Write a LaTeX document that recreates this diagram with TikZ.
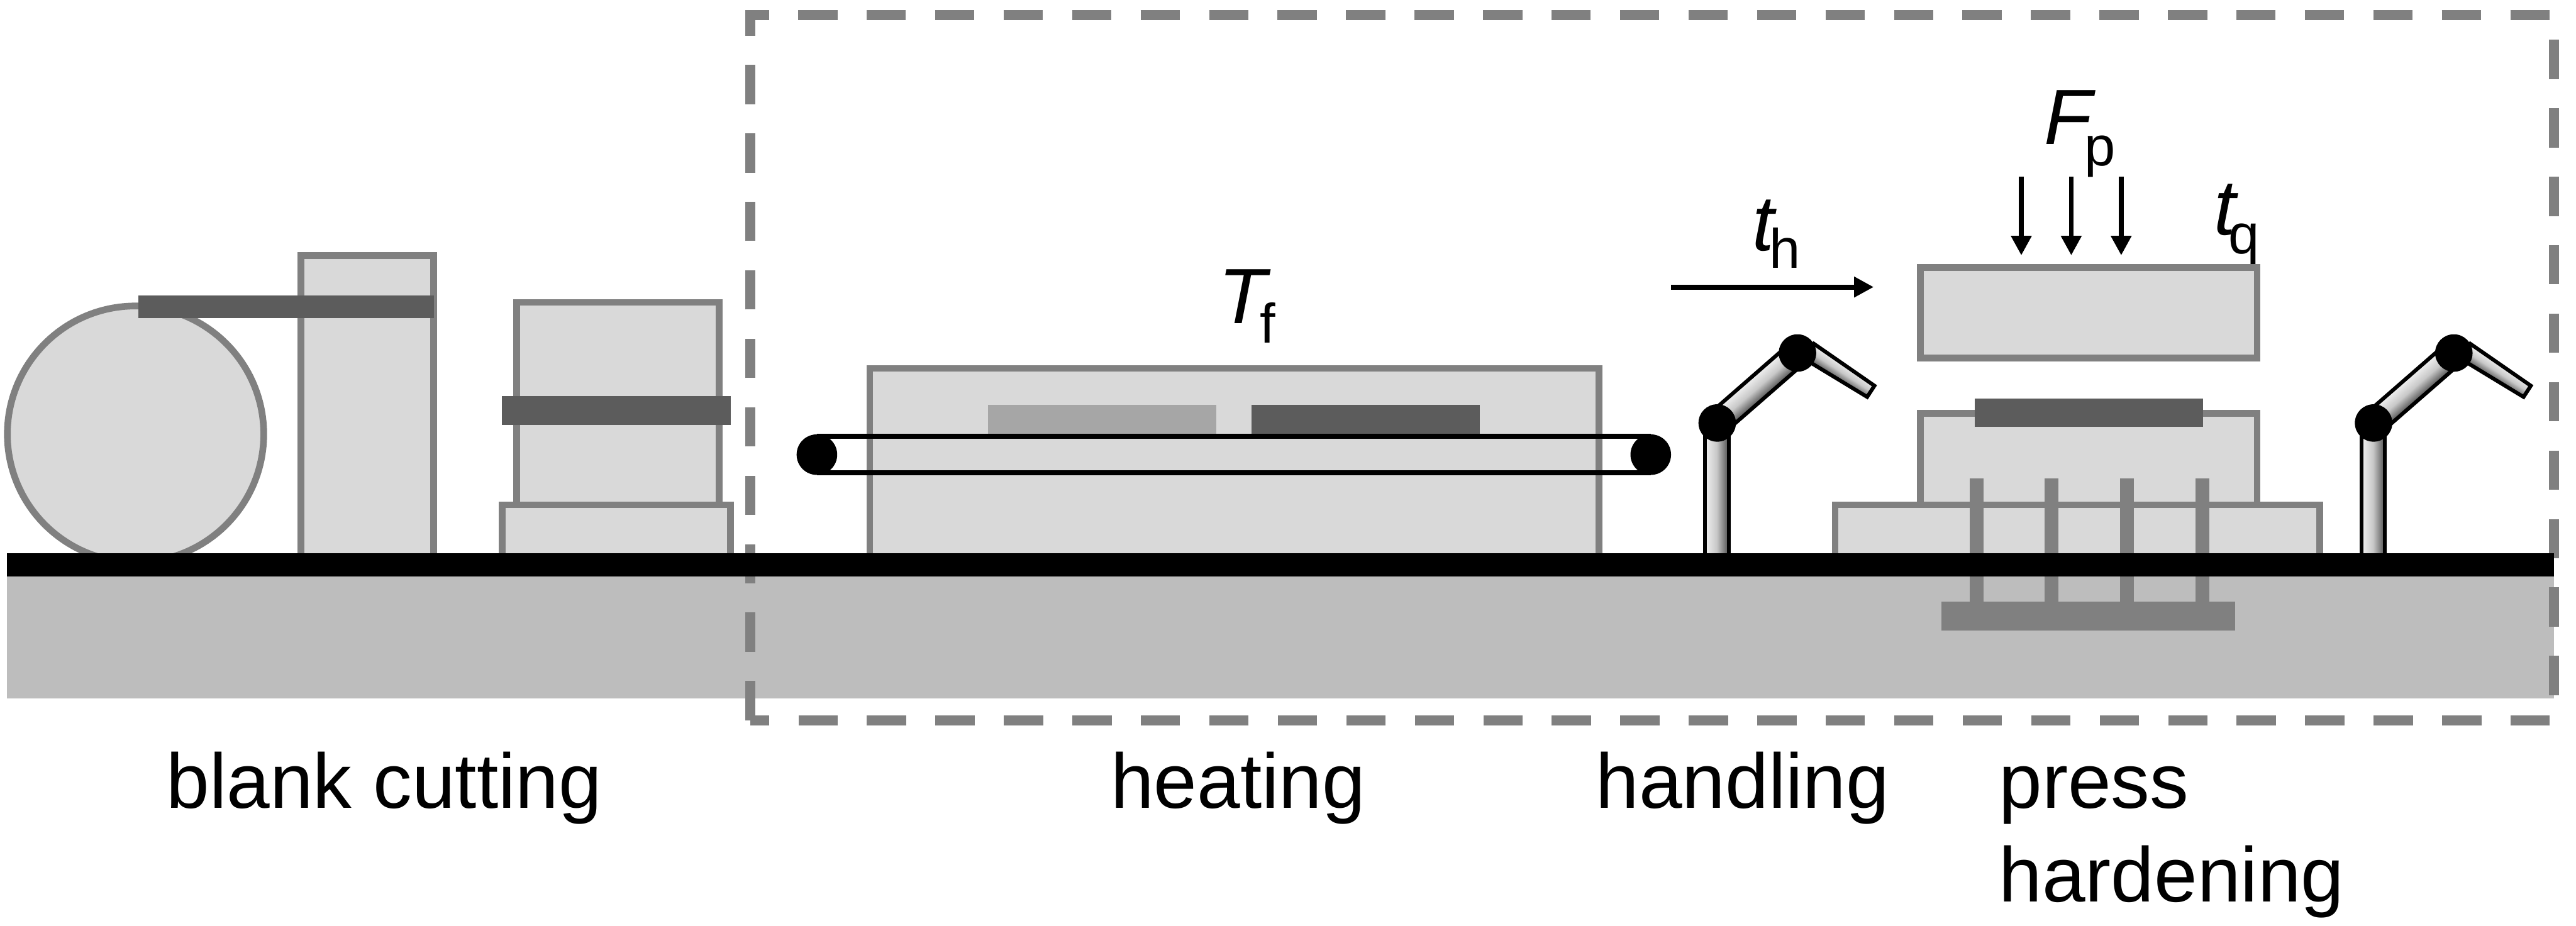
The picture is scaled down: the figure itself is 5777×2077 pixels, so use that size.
\documentclass[tikz,border=0pt]{standalone}
\usepackage{fontspec}
\setmainfont{Liberation Sans}
\usetikzlibrary{arrows.meta}
\definecolor{edgegrey}{HTML}{808080}
\definecolor{bodygrey}{HTML}{D9D9D9}
\definecolor{basegrey}{HTML}{BDBDBD}
\definecolor{darkstrip}{HTML}{5C5C5C}
\definecolor{lightstrip}{HTML}{A6A6A6}
\definecolor{armlight}{HTML}{F2F2F2}
\definecolor{armmid}{HTML}{C8C8C8}
\definecolor{armdark}{HTML}{505050}
\tikzset{
  machine/.style={draw=edgegrey,fill=bodygrey,line width=0.15cm},
  belt/.style={draw=black,line width=0.11cm},
  procarrow/.style={draw=black,line width=0.11cm,-{Triangle[length=0.44cm,width=0.44cm]}},
  armpart/.style={draw=black,line width=0.085cm},
  lab/.style={inner sep=0pt,outer sep=0pt,anchor=base west,font=\fontsize{49.5}{60}\selectfont},
  mathlab/.style={inner sep=0pt,outer sep=0pt,anchor=base west,font=\fontsize{50}{60}\selectfont\itshape},
  sublab/.style={inner sep=0pt,outer sep=0pt,anchor=base west,font=\fontsize{35.5}{40}\selectfont}
}
\begin{document}
\begin{tikzpicture}[x=0.01cm,y=-0.01cm]
\useasboundingbox[fill=white] (0,0) rectangle (5777,2077);
% base
\fill[basegrey] (16,1293) rectangle (5727,1567);
% dashed frame
\draw[edgegrey,line width=0.225cm,dash pattern=on 0.88cm off 0.655cm]
  (1683,1616) -- (1683,33.5) -- (5727.5,33.5) -- (5727.5,1616) -- (1683,1616);
% label partly hidden by the press
\node[sublab] (subq) at (4997,569) {q};
% coil and blank cutting
\draw[machine] (304,974) circle (287.5);
\draw[machine] (674.5,573.5) rectangle (972.5,1260);
\fill[darkstrip] (310,663) rectangle (973,713);
\draw[machine] (1158.5,678.5) rectangle (1612.5,1140);
\draw[machine] (1126.5,1132.5) rectangle (1638.5,1260);
\fill[darkstrip] (1126,889) rectangle (1639,953);
% furnace
\draw[machine] (1950.5,826.5) rectangle (3585.5,1260);
\fill[lightstrip] (2216,909) rectangle (2728,973);
\fill[darkstrip] (2806,909) rectangle (3319,973);
\draw[belt] (1832,978.5) -- (3702,978.5);
\draw[belt] (1832,1060.5) -- (3702,1060.5);
\fill[black] (1832,1020) circle (45.5);
\fill[black] (3702,1020) circle (45.5);
% press
\draw[machine] (4306.5,600.5) rectangle (5062,803.5);
\draw[machine] (4306.5,927.5) rectangle (5062,1260);
\fill[darkstrip] (4429,894) rectangle (4940,957);
\draw[machine] (4115.5,1132.5) rectangle (5202.5,1260);
\foreach \px in {4417,4585,4754,4924}{
  \fill[edgegrey] (\px,1073) rectangle (\px+31,1360);
}
\fill[edgegrey] (4354,1350) rectangle (5013,1414);
% robot arms
\foreach \ox in {0,1472}{
  \shadedraw[armpart,top color=armlight,bottom color=armdark,middle color=armmid,
     transform canvas={shift={(4195.5+\ox,878)},rotate=-33}]
     (-165,-20) -- (0,-15) -- (0,15) -- (-165,20) -- cycle;
  \shadedraw[armpart,top color=armlight,bottom color=armdark,middle color=armmid,
     transform canvas={shift={(3851+\ox,949)},rotate=41.1}]
     (0,-27) rectangle (239,27);
  \shadedraw[armpart,left color=armlight,right color=armdark,middle color=armmid]
     (3823.5+\ox,949) rectangle (3876.5+\ox,1250);
  \fill[black] (3851+\ox,949) circle (42);
  \fill[black] (4031+\ox,792) circle (42);
}
% ground
\fill[black] (16,1241) rectangle (5727,1293);
% arrows
\coordinate (thS) at (3748,644);
\coordinate (thE) at (4202,644);
\draw[procarrow] (thS) -- (thE);
\foreach \ax/\nm in {4533/a,4645/b,4757/c}{
  \coordinate (f\nm S) at (\ax,396);
  \coordinate (f\nm E) at (\ax,573);
  \draw[procarrow] (f\nm S) -- (f\nm E);
}
% labels
\node[lab] (lblank) at (373,1813) {blank cutting};
\node[lab] (lheat) at (2491,1813) {heating};
\node[lab] (lhand) at (3579,1813) {handling};
\node[lab] (lpress) at (4483,1813) {press};
\node[lab] (lhard) at (4483,2023) {hardening};
\node[mathlab] (Tf) at (2733,726) {T};
\node[sublab] (subf) at (2826,770) {f};
\node[mathlab] (Fp) at (4584,324) {F};
\node[sublab] (subp) at (4675,371) {p};
\node[mathlab] (th) at (3930,562) {t};
\node[sublab] (subh) at (3968,602) {h};
\node[mathlab] (tq) at (4965,527) {t};
\end{tikzpicture}
\end{document}
